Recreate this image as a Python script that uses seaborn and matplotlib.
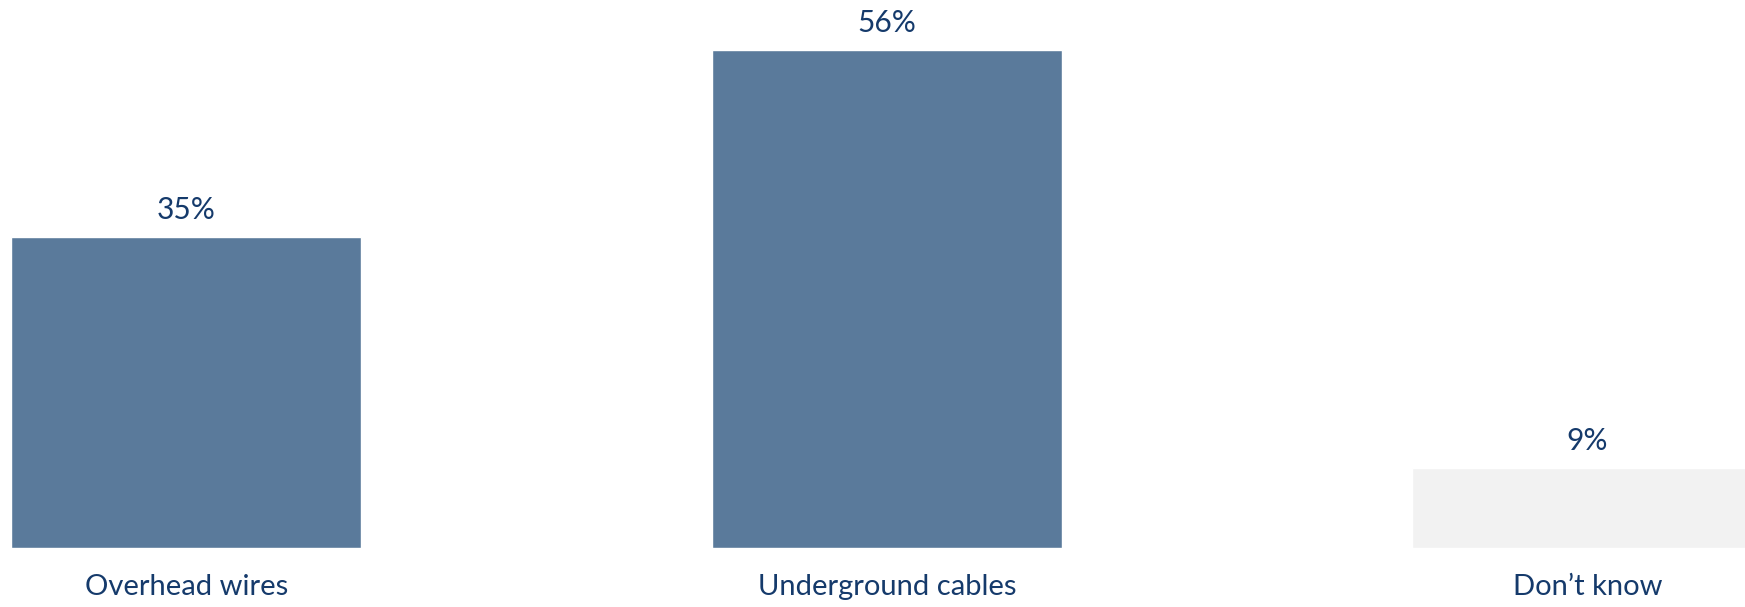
import matplotlib
matplotlib.use('Agg')
import matplotlib.pyplot as plt
import seaborn as sns
import pandas as pd

# chart data
categories = ['Overhead wires', 'Underground cables', 'Don\u2019t know']
shares = [35, 56, 9]
bar_colors = ['#5A7A9B', '#5A7A9B', '#F2F2F2']

df = pd.DataFrame({'answer': categories, 'share': shares})

sns.set_style('white')
plt.rcParams['font.family'] = ['Lato', 'DejaVu Sans']
text_color = '#153A6B'

fig = plt.figure(figsize=(17.45, 6.07), dpi=100)
ax = fig.add_axes([0, 59 / 607, 1, 548 / 607])

sns.barplot(data=df, x='answer', y='share', hue='answer', palette=bar_colors,
            width=0.5, legend=False, ax=ax, saturation=1)

# value labels on top of each bar
for c in ax.containers:
    ax.bar_label(c, labels=[f'{v:.0f}%' for v in c.datavalues],
                 padding=9, fontsize=21.5, color=text_color)

ax.set_xlim(-0.266, 2.2252)
ax.set_ylim(0, 61.6)
ax.set_xlabel('')
ax.set_ylabel('')
ax.set_yticks([])
ax.tick_params(axis='x', length=0, pad=19, labelsize=21, labelcolor=text_color)
sns.despine(ax=ax, left=True, bottom=True)

plt.savefig('out.png', dpi=100)
